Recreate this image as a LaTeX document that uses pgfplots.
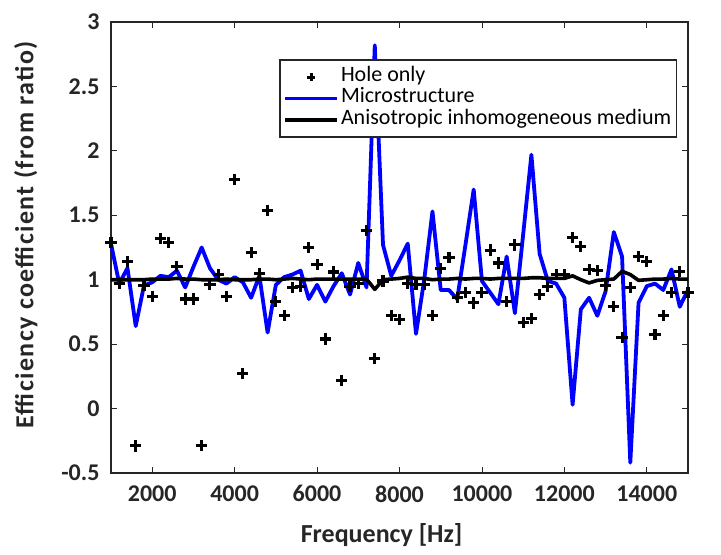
\documentclass[border=0pt]{standalone}
\usepackage{pgfplots}
\pgfplotsset{compat=1.18}
\usepackage{pgfplotstable}
\usepackage{fontspec}
\setmainfont{Carlito}
\definecolor{axgray}{RGB}{38,38,38}
\definecolor{mblue}{RGB}{0,0,255}
\pgfplotsset{
  leglineimg/.style={legend image code/.code={\draw[##1] (0bp,0bp) -- (52bp,0bp);}},
  legmarkimg/.style={legend image code/.code={\draw[mark repeat=2,mark phase=2,##1,mark size=3.8bp] plot coordinates {(0bp,0bp) (26bp,0bp) (52bp,0bp)};}},
}

\pgfplotstableread{
f hole micro aniso
1000 1.29 1.28 1.00
1200 0.97 0.97 1.00
1400 1.14 1.09 1.00
1600 -0.29 0.64 1.00
1800 0.955 0.955 1.00
2000 0.87 0.98 1.005
2200 1.32 1.03 1.005
2400 1.29 1.02 1.005
2600 1.10 1.07 1.01
2800 0.85 0.94 1.005
3000 0.85 1.10 1.005
3200 -0.285 1.25 1.00
3400 0.96 1.09 1.00
3600 1.04 1.00 1.00
3800 0.87 0.97 1.005
4000 1.78 1.02 1.00
4200 0.27 0.98 1.00
4400 1.21 0.86 1.00
4600 1.05 1.03 1.005
4800 1.54 0.59 1.005
5000 0.83 0.96 1.00
5200 0.72 1.02 1.005
5400 0.94 1.04 1.01
5600 0.95 1.07 1.005
5800 1.25 0.85 1.00
6000 1.12 0.96 1.005
6200 0.54 0.83 1.005
6400 1.06 0.95 1.005
6600 0.22 1.05 1.005
6800 0.95 0.885 1.005
7000 0.97 1.13 1.005
7200 1.38 0.94 1.005
7400 0.386 2.82 0.925
7600 0.99 1.27 1.00
7800 0.72 1.03 1.005
8000 0.69 1.15 1.01
8200 0.97 1.28 1.02
8400 0.96 0.58 1.01
8600 0.96 1.00 1.01
8800 0.72 1.53 1.00
9000 1.09 0.92 1.005
9200 1.17 0.92 1.005
9400 0.86 0.85 1.01
9600 0.90 1.27 1.005
9800 0.82 1.70 1.01
10000 0.90 0.99 1.01
10200 1.23 0.90 1.005
10400 1.13 0.81 1.01
10600 0.83 1.18 1.01
10800 1.27 0.74 1.01
11000 0.67 1.35 1.01
11200 0.70 1.97 1.015
11400 0.885 1.20 1.015
11600 0.95 0.99 1.01
11800 1.04 0.97 1.01
12000 1.04 0.86 1.01
12200 1.33 0.03 1.03
12400 1.26 0.77 1.00
12600 1.08 0.86 0.975
12800 1.07 0.72 0.995
13000 0.955 0.91 1.00
13200 0.79 1.37 1.005
13400 0.55 1.18 1.065
13600 0.94 -0.42 1.04
13800 1.18 0.82 0.995
14000 1.14 0.95 1.00
14200 0.575 0.97 1.005
14400 0.72 0.92 1.005
14600 0.90 1.08 1.01
14800 1.065 0.79 1.005
15000 0.90 0.92 1.005
}\datatable

\begin{document}
\begin{tikzpicture}
\useasboundingbox (-111bp,-82bp) rectangle (610bp,473bp);
\begin{axis}[
  at={(0,0)}, anchor=south west,
  scale only axis,
  width=577bp, height=451bp,
  xmin=1000, xmax=15000,
  ymin=-0.5, ymax=3,
  xtick={2000,4000,6000,8000,10000,12000,14000},
  xticklabels={2000,4000,6000,8000,10000,12000,14000},
  ytick={-0.5,0,0.5,1,1.5,2,2.5,3},
  yticklabels={-0.5,0,0.5,1,1.5,2,2.5,3},
  scaled ticks=false,
  tick align=inside,
  major tick length=6bp,
  axis line style={line width=2.6bp, color=axgray},
  every tick/.style={line width=0.8bp, color=axgray},
  ticklabel style={font=\fontsize{24bp}{28bp}\selectfont\bfseries, text=axgray},
  xticklabel style={yshift=-9bp},
  yticklabel style={xshift=-8bp},
  xlabel={Frequency [Hz]},
  ylabel={Efficiency coefficient (from ratio)},
  xlabel style={font=\fontsize{26bp}{30bp}\selectfont\bfseries, text=axgray,
    at={(axis description cs:0.469,-0.1552)}, anchor=base},
  ylabel style={font=\fontsize{26bp}{30bp}\selectfont\bfseries\addfontfeature{LetterSpace=5.5}, text=axgray,
    at={(axis description cs:-0.1347,0.5277)}, anchor=base},
  clip=false,
  legend cell align=left,
  legend style={
    at={(0.981,0.917)}, anchor=north east,
    draw=axgray, line width=1.5bp, fill=white,
    font=\fontsize{22bp}{25bp}\selectfont,
    inner xsep=3bp, inner ysep=6.3bp,
    row sep=0bp,
    nodes={inner xsep=2bp, inner ysep=0bp, text height=15bp, text depth=6.4bp},
  },
]
\addplot[only marks, mark=+, mark size=5.6bp, line width=3.1bp, black, legmarkimg]
  table[x=f, y=hole] {\datatable};
\addlegendentry{Hole only}
\addplot[mblue, line width=3.8bp, no marks, line join=round, leglineimg]
  table[x=f, y=micro] {\datatable};
\addlegendentry{Microstructure}
\addplot[black, line width=3.6bp, no marks, line join=round, leglineimg]
  table[x=f, y=aniso] {\datatable};
\addlegendentry{Anisotropic inhomogeneous medium}
\end{axis}
\end{tikzpicture}
\end{document}
